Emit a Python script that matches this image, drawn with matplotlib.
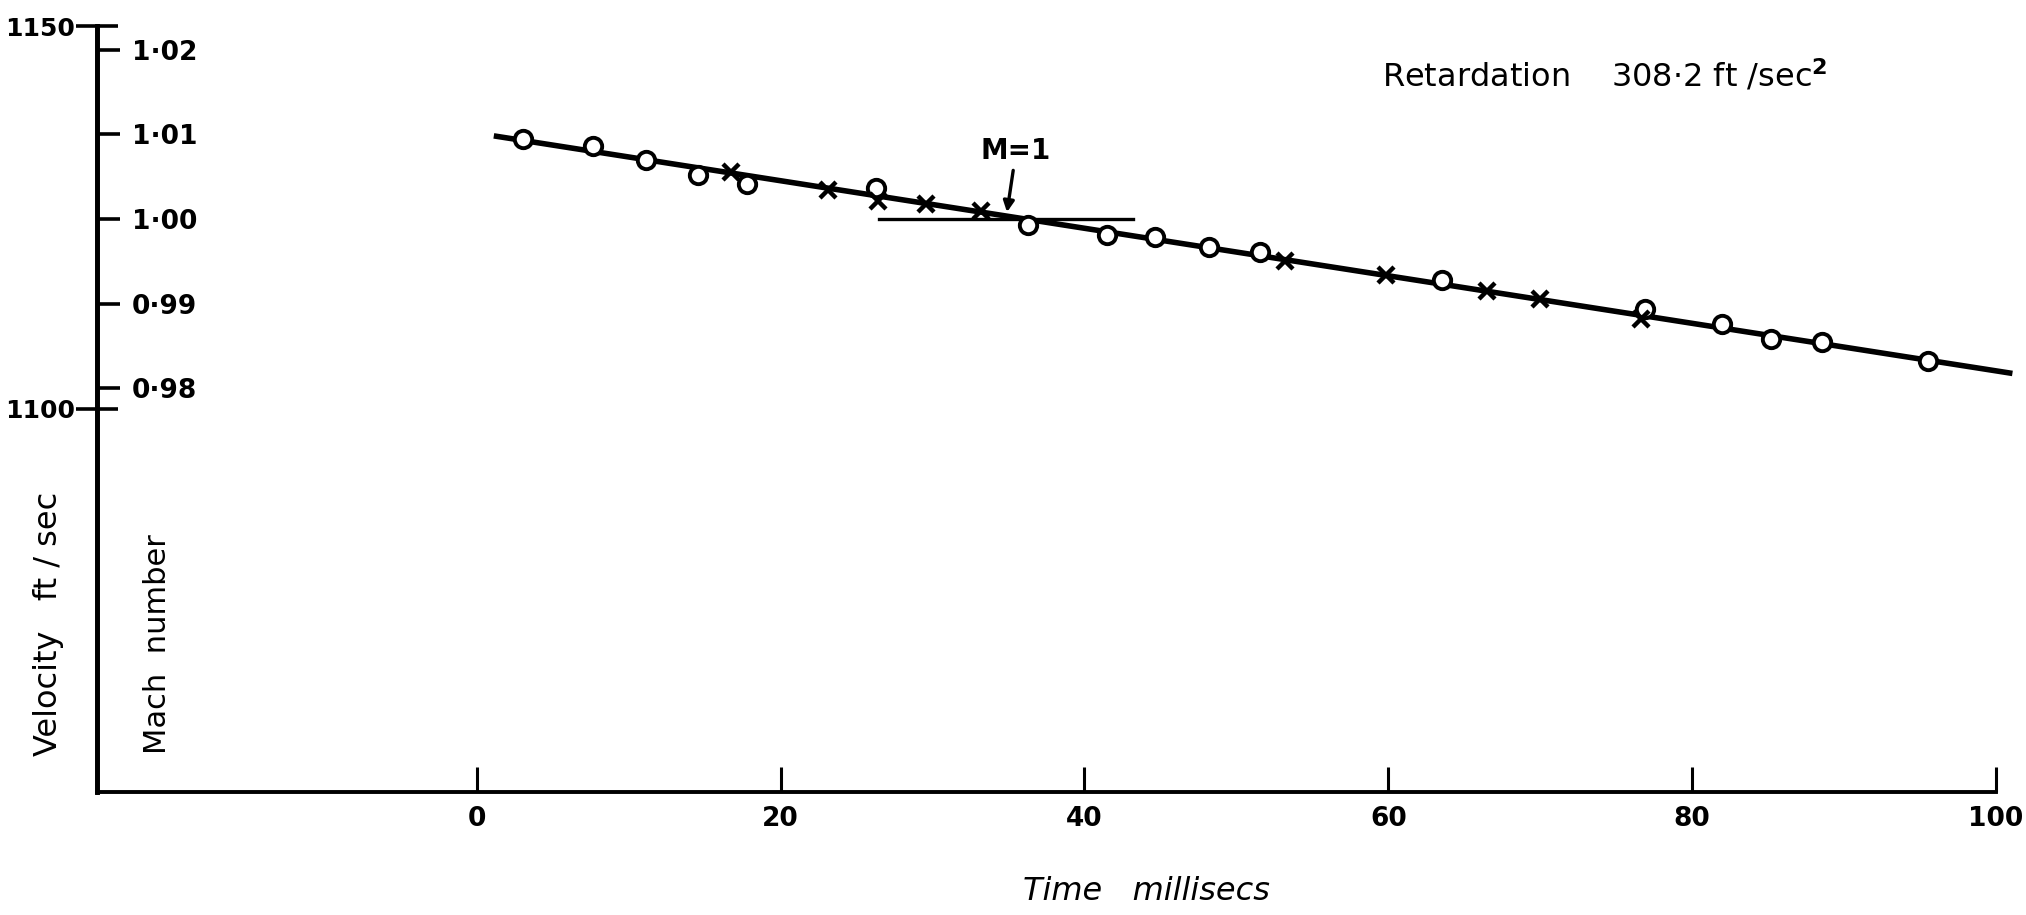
import matplotlib
matplotlib.use('Agg')
import matplotlib.pyplot as plt
from matplotlib.ticker import FuncFormatter

# readings, circles: time (millisecs) and velocity (ft/sec)
circle_time = [3.05, 7.64, 11.13, 14.53, 17.76, 26.27, 36.31, 41.49, 44.64,
               48.22, 51.53, 63.53, 76.88, 81.99, 85.22, 88.54, 95.51]
circle_vel = [1135.3, 1134.3, 1132.5, 1130.6, 1129.4, 1128.8, 1124.0, 1122.7,
              1122.4, 1121.2, 1120.5, 1116.8, 1113.1, 1111.1, 1109.2, 1108.7, 1106.3]

# readings, crosses
cross_time = [16.74, 23.12, 26.44, 29.59, 33.16, 53.23, 59.87, 66.51, 69.99, 76.62]
cross_vel = [1131.0, 1128.6, 1127.1, 1126.7, 1125.9, 1119.3, 1117.5, 1115.4,
             1114.4, 1111.7]

# fitted straight line (retardation 308.2 ft/sec^2)
fit_time = [1.3, 100.9]
fit_vel = [1135.6, 1104.7]

# short line marking M = 1
sonic_time = [26.5, 43.2]

time_ticks = [0, 20, 40, 60, 80, 100]
vel_ticks = [1100, 1150]
mach_ticks = [0.98, 0.99, 1.00, 1.01, 1.02]

V_SONIC = 1124.8      # ft/sec at M = 1 on this sheet
V_PER_MACH = 1106.0   # ft/sec per unit Mach number


def vel_to_mach(v):
    return 1 + (v - V_SONIC) / V_PER_MACH


plt.rcParams['font.family'] = 'DejaVu Sans'
plt.rcParams['font.weight'] = 'bold'

fig = plt.figure(figsize=(20.26, 9.15), dpi=100)
ax = fig.add_axes([97 / 2026, 1 - 792 / 915, 1899 / 2026, 766 / 915])

ax.plot(fit_time, fit_vel, color='black', lw=4.0, clip_on=False, zorder=2)
ax.plot(circle_time, circle_vel, 'o', ms=12.5, mfc='white', mec='black', mew=2.8,
        ls='none', zorder=3)
ax.plot(cross_time, cross_vel, 'x', ms=11.5, mew=3.2, color='black', ls='none', zorder=3)
ax.plot(sonic_time, [V_SONIC, V_SONIC], color='black', lw=2.4, zorder=2)

ax.annotate('M=1', xy=(34.9, 1125.7), xytext=(35.5, 1133.7), ha='center', va='center',
            fontsize=20, arrowprops=dict(arrowstyle='-|>', color='black', lw=2.4,
                                         mutation_scale=16, shrinkA=2, shrinkB=0))

ax.text(59.6, 1143.5, r'Retardation    308·2 ft /sec$^{2}$', fontsize=23,
        fontweight='normal', ha='left', va='center')

ax.set_xlim(-25, 100)
ax.set_ylim(1050, 1150)
ax.set_xticks(time_ticks)
ax.set_yticks(vel_ticks)
for side in ['top', 'right']:
    ax.spines[side].set_visible(False)
ax.spines['left'].set_linewidth(3.4)
ax.spines['bottom'].set_linewidth(2.8)
ax.tick_params(axis='x', direction='in', length=18, width=2.2, pad=10, labelsize=19)
ax.tick_params(axis='y', direction='inout', length=30, width=2.6, pad=0.5, labelsize=18)

ax.set_xlabel('Time   millisecs', fontsize=23, fontstyle='italic', fontweight='normal',
              va='top')
ax.xaxis.set_label_coords((1146 - 97) / 1899, (792 - 876) / 766)

ax.text((48 - 97) / 1899, (792 - 624) / 766, 'Velocity   ft / sec', rotation=90,
        fontsize=23, fontweight='normal', ha='center', va='center', transform=ax.transAxes)
ax.text((157 - 97) / 1899, (792 - 644) / 766, 'Mach  number', rotation=90,
        fontsize=22, fontweight='normal', ha='center', va='center', transform=ax.transAxes)

# Mach number scale drawn on the same vertical axis, ticks pointing inward
ax2 = ax.twinx()
ax2.set_ylim(vel_to_mach(1050), vel_to_mach(1150))
ax2.spines['right'].set_position(('axes', 0))
ax2.spines['right'].set_linewidth(3.4)
for side in ['top', 'left', 'bottom']:
    ax2.spines[side].set_visible(False)
ax2.set_yticks(mach_ticks)
ax2.yaxis.set_major_formatter(FuncFormatter(lambda m, pos: f'{m:.2f}'.replace('.', '·')))
ax2.tick_params(axis='y', direction='out', length=16.5, width=2.6, pad=8.6, labelsize=19)

fig.savefig('out.png', dpi=100)
